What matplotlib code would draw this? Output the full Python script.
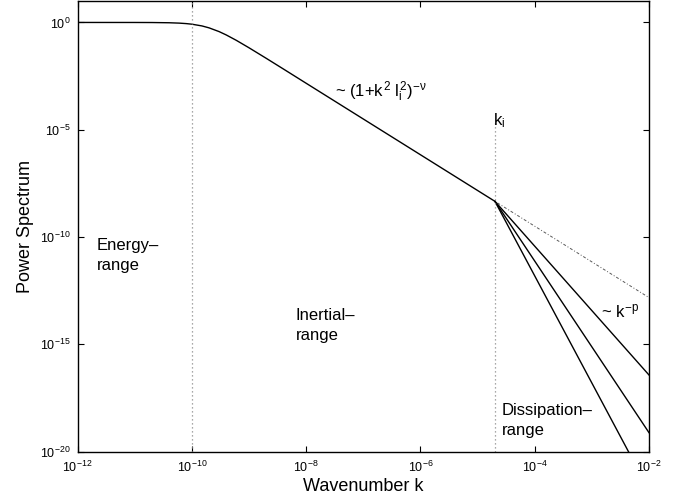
import matplotlib
matplotlib.use("Agg")
from matplotlib import pyplot as plt

plt.rcParams['font.family'] = ['Liberation Sans', 'DejaVu Sans']
plt.rcParams['mathtext.fontset'] = 'custom'
plt.rcParams['mathtext.rm'] = 'Liberation Sans'
plt.rcParams['mathtext.it'] = 'Liberation Sans'
plt.rcParams['mathtext.bf'] = 'Liberation Sans:bold'

# spectrum: flat energy range, knee near 1e-10, inertial slope down to k_i
k_main = [1e-12, 1e-11, 2e-11, 4e-11, 6e-11, 8e-11, 1e-10, 1.5e-10, 2e-10,
          3e-10, 4e-10, 6e-10, 1e-9, 2e-9, 4e-9, 1e-8, 2.02e-5]
p_main = [1.0, 0.998, 0.992, 0.968, 0.931, 0.884, 0.830, 0.690, 0.561,
          0.375, 0.262, 0.147, 0.0662, 0.0214, 6.78e-3, 1.47e-3, 4.57e-9]

k_i = 2.02e-5
p_ki = 4.57e-9
k_end = 1e-2
# value at k = 1e-2 for the dotted continuation and the three dissipation lines (~k^-3, k^-4, k^-5)
p_cont_end = 1.5e-13
p_diss_end = [3.7e-17, 7.6e-20, 1.6e-22]

xticks = [1e-12, 1e-10, 1e-8, 1e-6, 1e-4, 1e-2]
yticks = [1e-20, 1e-15, 1e-10, 1e-5, 1e0]

fig = plt.figure(figsize=(6.86, 5.0), dpi=100)
ax = fig.add_axes([0.113, 0.097, 0.833, 0.901])

ax.loglog(k_main, p_main, color='black', lw=1.0)
ax.loglog([k_i, k_end], [p_ki, p_cont_end], color='0.35', lw=0.7,
          linestyle=(0, (1, 2, 3, 2)))
for pe in p_diss_end:
    ax.loglog([k_i, k_end], [p_ki, pe], color='black', lw=1.0)

ax.plot([1e-10, 1e-10], [1e-20, 1e1], color='0.55', lw=0.9, linestyle=(0, (1, 2.2)))
ax.plot([k_i, k_i], [1e-20, 2.5e-5], color='0.55', lw=0.9, linestyle=(0, (1, 2.2)))

ax.set_xlim(1e-12, 1e-2)
ax.set_ylim(1e-20, 1e1)
ax.set_xticks(xticks)
ax.set_yticks(yticks)
ax.minorticks_off()
ax.tick_params(which='both', direction='in', top=True, right=True,
               length=4, width=0.8, labelsize=9)
ax.tick_params(axis='x', pad=6)
ax.tick_params(axis='y', pad=5)
for s in ax.spines.values():
    s.set_linewidth(1.0)

ax.set_xlabel('Wavenumber k', fontsize=13, labelpad=2)
ax.set_ylabel('Power Spectrum', fontsize=13, labelpad=4)

fs = 12
ax.text(10**-7.49, 10**-3.48, r'~ $(1{+}k^2\ l_i^2)^{-\nu}$', fontsize=fs, va='baseline')
ax.text(10**-4.735, 10**-4.79, r'$k_i$', fontsize=fs, va='baseline')
ax.text(10**-11.66, 10**-10.62, 'Energy–', fontsize=fs, va='baseline')
ax.text(10**-11.66, 10**-11.555, 'range', fontsize=fs, va='baseline')
ax.text(10**-8.177, 10**-13.887, 'Inertial–', fontsize=fs, va='baseline')
ax.text(10**-8.177, 10**-14.82, 'range', fontsize=fs, va='baseline')
ax.text(10**-4.578, 10**-18.32, 'Dissipation–', fontsize=fs, va='baseline')
ax.text(10**-4.578, 10**-19.21, 'range', fontsize=fs, va='baseline')
ax.text(10**-2.845, 10**-13.73, r'~ $k^{-p}$', fontsize=fs, va='baseline')

fig.savefig('out.png', dpi=100)
